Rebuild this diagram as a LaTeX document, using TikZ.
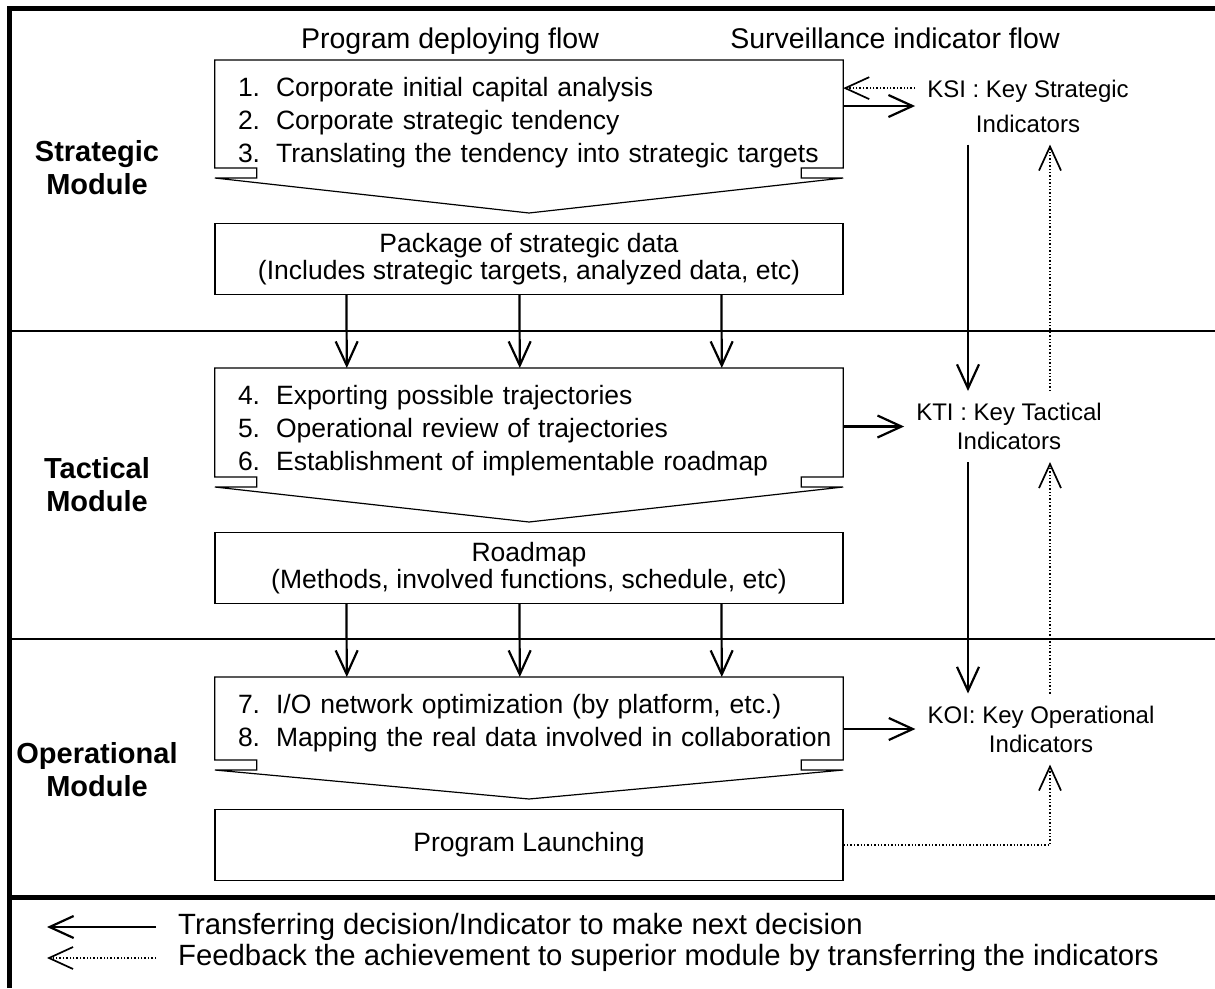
\documentclass[tikz,border=0pt]{standalone}
\usepackage{fontspec}
\setmainfont{Liberation Sans}
\usepackage{tikz}
\usetikzlibrary{shapes}
\usetikzlibrary{arrows.meta}
\tikzstyle{titre}=[font=\fontsize{28.5}{34}\selectfont,anchor=base]
\tikzstyle{module}=[font=\fontsize{29}{33}\selectfont\bfseries,align=center]
\tikzstyle{etape}=[
        rectangle,
        anchor=north,
        inner xsep=23pt,
        inner ysep=17pt,
        text width=582pt,
        align=left,
        font=\fontsize{26.5}{33}\selectfont
]
\tikzstyle{paquet}=[
        rectangle,
        draw,
        line width=1.2pt,
        anchor=north,
        minimum width=628pt,
        minimum height=71pt,
        align=center,
        font=\fontsize{26.5}{27}\selectfont
]
\tikzstyle{indic}=[inner sep=12pt,anchor=north,align=center,font=\fontsize{24}{29}\selectfont]
\tikzstyle{legende}=[anchor=west,inner xsep=22pt,font=\fontsize{29.3}{35}\selectfont]
\tikzstyle{cadre}=[line width=1.2pt,line join=miter]
\tikzstyle{fleche}=[line width=2.2pt,-{Straight Barb[length=24pt,width=22pt]}]
\tikzstyle{retour}=[line width=1.7pt,dash pattern=on 1.4pt off 2pt,-{Straight Barb[length=24pt,width=22pt]}]
\begin{document}
\begin{tikzpicture}[x=1pt,y=1pt]
\useasboundingbox (0,0) rectangle (1215,-988);
%Cadre et separations
\draw[line width=5pt] (9.2,-988) -- (9.2,-8.5) -- (1215,-8.5);
\draw[line width=2.2pt] (9.2,-331) -- (1215,-331);
\draw[line width=2.2pt] (9.2,-639) -- (1215,-639);
\draw[line width=5pt] (9.2,-897) -- (1215,-897);
\node[titre] (deploi) at (450,-48) {Program deploying flow};
\node[titre] (surv) at (895,-48) {Surveillance indicator flow};
\node[module] (mstrat) at (97,-168) {Strategic\\Module};
\node[module] (mtact) at (97,-485) {Tactical\\Module};
\node[module] (moper) at (97,-770) {Operational\\Module};
%Etapes
\node[etape] (strat) at (529,-60) {1.\hspace{16pt}Corporate initial capital analysis\\2.\hspace{16pt}Corporate strategic tendency\\\mbox{3.\hspace{16pt}Translating the tendency into strategic targets}};
\draw[cadre] ([yshift=-108pt]strat.north west) -- (strat.north west) -- (strat.north east) -- ++(0,-108) -- ++(-42,0) -- ++(0,-10) -- ++(42,0) -- ([yshift=-153pt]strat.north) -- ([yshift=-118pt]strat.north west) -- ++(42,0) -- ++(0,10) -- cycle;
\node[paquet] (pack) at (529,-223) {Package of strategic data\\(Includes strategic targets, analyzed data, etc)};
\node[etape] (tact) at (529,-368) {4.\hspace{16pt}Exporting possible trajectories\\5.\hspace{16pt}Operational review of trajectories\\6.\hspace{16pt}Establishment of implementable roadmap};
\draw[cadre] ([yshift=-109pt]tact.north west) -- (tact.north west) -- (tact.north east) -- ++(0,-109) -- ++(-42,0) -- ++(0,-10) -- ++(42,0) -- ([yshift=-154pt]tact.north) -- ([yshift=-119pt]tact.north west) -- ++(42,0) -- ++(0,10) -- cycle;
\node[paquet] (road) at (529,-532) {Roadmap\\(Methods, involved functions, schedule, etc)};
\node[etape] (oper) at (529,-677) {\mbox{7.\hspace{16pt}I/O network optimization (by platform, etc.)}\\\mbox{8.\hspace{16pt}Mapping the real data involved in collaboration}};
\draw[cadre] ([yshift=-83pt]oper.north west) -- (oper.north west) -- (oper.north east) -- ++(0,-83) -- ++(-42,0) -- ++(0,-10) -- ++(42,0) -- ([yshift=-122pt]oper.north) -- ([yshift=-93pt]oper.north west) -- ++(42,0) -- ++(0,10) -- cycle;
\node[paquet] (launch) at (529,-809) {Program Launching};
%Indicateurs
\node[indic] (ksi) at (1028,-67.5) {KSI : Key Strategic\\[6pt]Indicators};
\node[indic] (kti) at (1009,-391) {KTI : Key Tactical\\Indicators};
\node[indic] (koi) at (1041,-693.5) {KOI: Key Operational\\Indicators};
\coordinate (colA) at (968,0);
\coordinate (colB) at (1050,0);
%Placement des fleches
\foreach \d in {132,305,507} {
  \draw[fleche] ([xshift=\d pt]pack.south west) -- ([xshift=\d pt]tact.north west);
  \draw[fleche] ([xshift=\d pt]road.south west) -- ([xshift=\d pt]oper.north west);
}
\draw[fleche] (ksi.west -| strat.east) -- (ksi.west);
\draw[retour] (ksi.171) -- (ksi.171 -| strat.east);
\draw[fleche] (kti.west -| tact.east) -- (kti.west);
\draw[fleche] (koi.west -| oper.east) -- (koi.west);
\draw[fleche] (ksi.south -| colA) -- (kti.north -| colA);
\draw[retour] (kti.north -| colB) -- (ksi.south -| colB);
\draw[fleche] (kti.south -| colA) -- (koi.north -| colA);
\draw[retour] (koi.north -| colB) -- (kti.south -| colB);
\draw[retour] (launch.east) -| (koi.south -| colB);
%Legende
\node[legende] (leg1) at (156,-927) {Transferring decision/Indicator to make next decision};
\node[legende] (leg2) at (156,-958) {Feedback the achievement to superior module by transferring the indicators};
\coordinate (bout) at (47,0);
\draw[fleche] (leg1.west) -- (leg1.west -| bout);
\draw[retour] (leg2.west) -- (leg2.west -| bout);
\end{tikzpicture}
\end{document}
